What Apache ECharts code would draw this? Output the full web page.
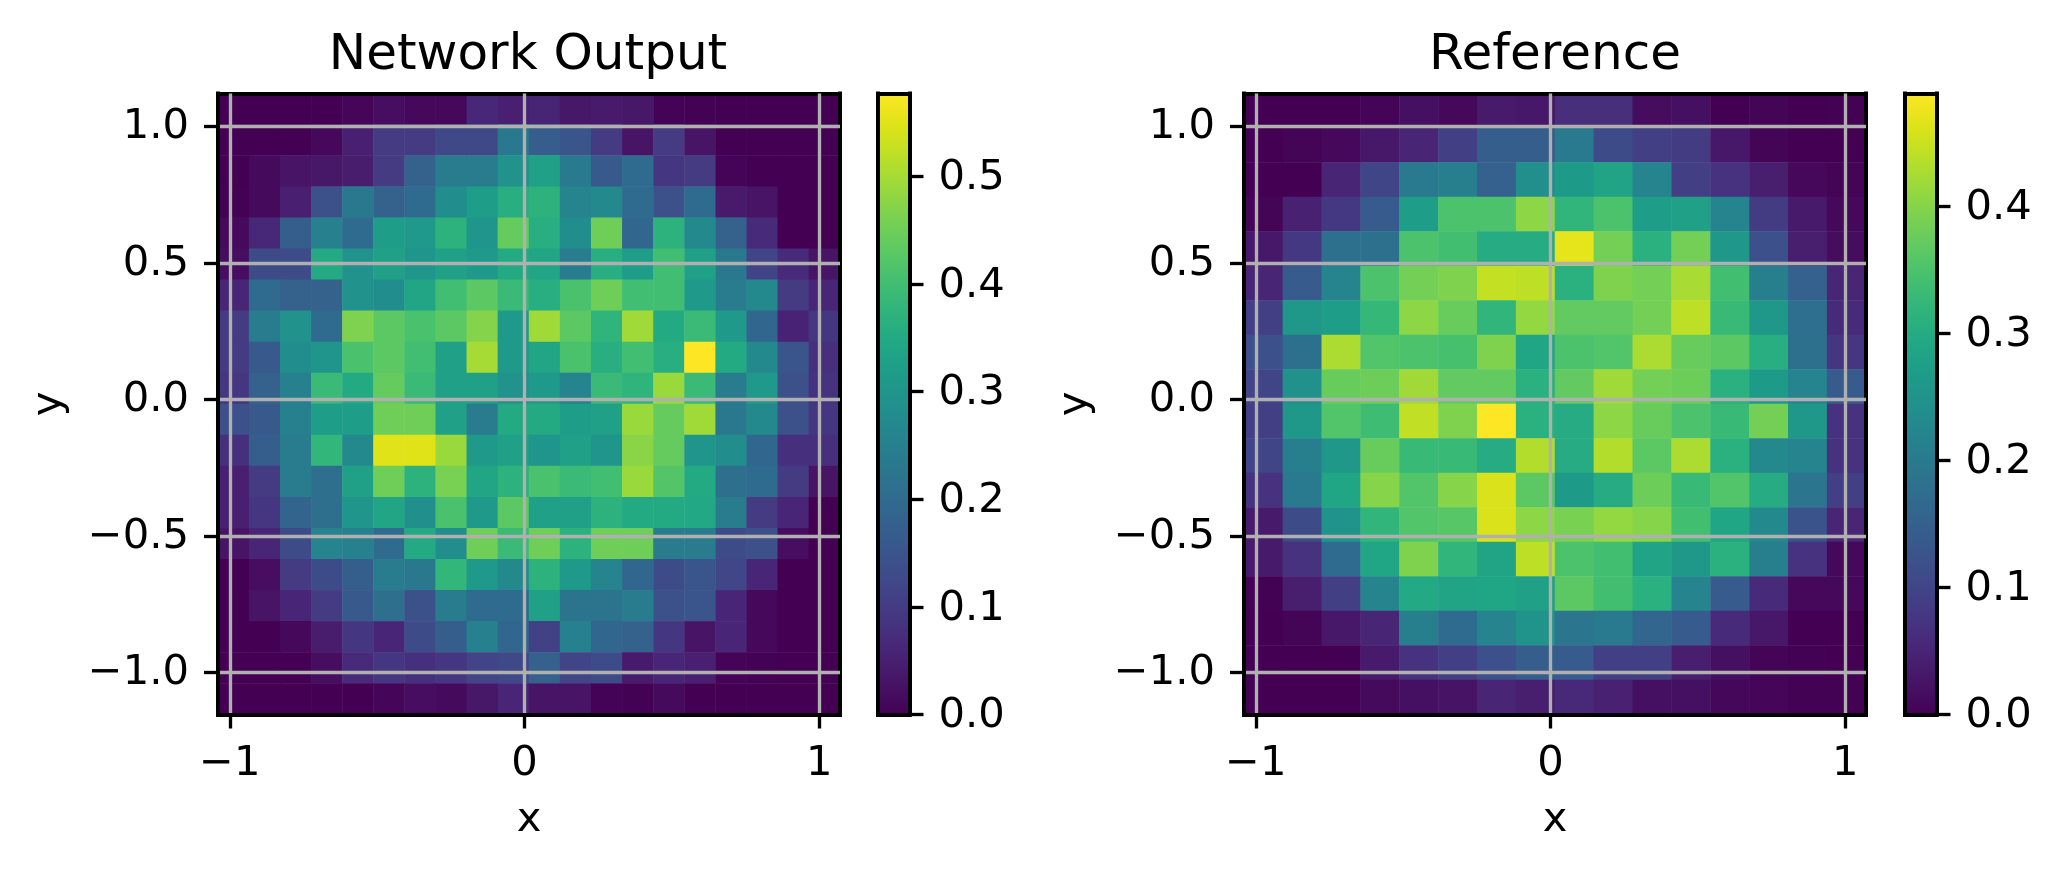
<!DOCTYPE html>
<html>
<head>
<meta charset="utf-8">
<style>html,body{margin:0;padding:0;background:#fff}#c{width:2061px;height:870px}</style>
<script src="https://cdn.jsdelivr.net/npm/echarts@6/dist/echarts.min.js"></script>
</head>
<body>
<div id="c"></div>
<script>
// Rows run from the top of the picture (high y) to the bottom.
const networkValues = [
[0,0,0,0,.006,.02,.012,.012,.065,.05,.058,.035,.04,.035,.004,.002,0,0,0,0],
[0,0,0,.012,.05,.1,.1,.125,.125,.23,.17,.15,.1,.03,.1,.03,0,0,0,0],
[0,.015,.03,.035,.045,.1,.18,.24,.24,.29,.33,.235,.16,.2,.09,.1,.005,0,0,0],
[.002,.015,.05,.14,.23,.18,.2,.28,.32,.36,.37,.26,.27,.2,.14,.2,.04,.03,0,0],
[.015,.065,.17,.25,.2,.32,.31,.37,.3,.44,.36,.28,.45,.19,.37,.27,.18,.07,0,0],
[.02,.13,.13,.35,.29,.33,.3,.33,.31,.35,.34,.24,.36,.32,.4,.33,.23,.115,.07,.03],
[.06,.2,.18,.18,.29,.28,.34,.4,.43,.39,.36,.41,.45,.4,.4,.31,.24,.27,.1,.06],
[.1,.24,.29,.2,.465,.43,.41,.43,.47,.31,.495,.43,.375,.495,.35,.39,.31,.19,.055,.09],
[.1,.16,.28,.3,.41,.43,.4,.33,.5,.31,.34,.41,.36,.4,.36,.577,.35,.27,.15,.08],
[.09,.18,.25,.39,.35,.44,.39,.33,.33,.29,.31,.26,.39,.375,.49,.39,.24,.31,.14,.085],
[.14,.16,.25,.32,.32,.45,.45,.33,.24,.35,.35,.32,.33,.49,.44,.495,.23,.27,.14,.09],
[.08,.17,.24,.38,.27,.548,.548,.49,.31,.33,.3,.33,.3,.475,.44,.3,.28,.19,.08,.08],
[.05,.1,.24,.21,.33,.45,.37,.46,.34,.37,.41,.39,.4,.49,.42,.35,.21,.2,.1,.03],
[.05,.09,.185,.21,.3,.34,.285,.41,.31,.43,.33,.33,.37,.35,.35,.345,.24,.1,.06,0],
[.03,.06,.13,.26,.25,.2,.35,.28,.45,.39,.45,.37,.45,.45,.24,.24,.13,.14,.02,0],
[0,.02,.1,.13,.17,.24,.23,.38,.31,.27,.37,.31,.26,.19,.13,.15,.12,.06,0,0],
[0,.03,.06,.1,.16,.21,.14,.24,.2,.2,.33,.22,.22,.24,.14,.15,.06,.012,0,0],
[0,0,.012,.045,.09,.06,.13,.17,.25,.19,.11,.25,.19,.18,.09,.03,.06,.012,0,0],
[0,0,0,.02,.07,.09,.08,.09,.115,.125,.18,.115,.13,.04,.06,.05,.005,.002,0,0],
[0,0,0,0,0,.008,.02,.015,.035,.06,.03,.03,.003,.002,.015,0,0,0,0,0]
];
const referenceValues = [
[0,0,0,.004,.02,.01,.035,.03,.065,.065,.015,.02,0,.005,0,.002],
[0,.005,.01,.03,.05,.09,.145,.145,.2,.11,.09,.085,.03,.005,0,0],
[0,0,.05,.1,.2,.21,.15,.24,.265,.285,.22,.09,.07,.04,.01,.005],
[.005,.045,.08,.14,.27,.35,.35,.405,.32,.35,.27,.28,.22,.085,.035,.01],
[.03,.08,.18,.18,.35,.34,.3,.3,.47,.385,.31,.385,.26,.12,.04,.015],
[.05,.14,.22,.35,.385,.395,.445,.44,.31,.395,.385,.425,.34,.21,.15,.05],
[.09,.26,.27,.325,.405,.375,.32,.41,.37,.37,.385,.44,.33,.26,.175,.06],
[.12,.18,.428,.355,.35,.345,.395,.29,.35,.355,.428,.375,.365,.305,.18,.075],
[.1,.245,.375,.38,.42,.37,.37,.31,.37,.42,.385,.38,.31,.265,.22,.14],
[.09,.26,.355,.335,.442,.395,.489,.31,.3,.405,.375,.35,.33,.385,.26,.07],
[.1,.21,.26,.375,.33,.33,.3,.433,.3,.433,.365,.428,.31,.23,.22,.07],
[.07,.2,.29,.4,.355,.4,.46,.365,.265,.3,.38,.33,.355,.3,.19,.09],
[.035,.11,.25,.32,.355,.36,.46,.405,.39,.41,.4,.34,.29,.23,.125,.05],
[.035,.07,.17,.29,.395,.32,.285,.44,.35,.34,.285,.26,.31,.21,.07,.01],
[.002,.04,.09,.22,.295,.285,.29,.28,.365,.34,.31,.22,.14,.06,.01,.01],
[0,.005,.03,.05,.21,.17,.22,.25,.19,.2,.16,.14,.06,.03,0,0],
[0,0,0,.035,.07,.09,.12,.145,.14,.09,.09,.04,.02,.005,.002,0],
[0,0,0,.012,.02,.025,.05,.04,.055,.045,.02,.02,.008,.006,.002,.002]
];
const titles = ['Network Output', 'Reference'];
const xTicks = [-1, 0, 1];
const yTicks = [-1, -0.5, 0, 0.5, 1];
const xRange = [-1.04, 1.07];
const yRange = [-1.154, 1.12];
const networkMax = 0.577;
const referenceMax = 0.489;
const networkBarTicks = [0, 0.1, 0.2, 0.3, 0.4, 0.5];
const referenceBarTicks = [0, 0.1, 0.2, 0.3, 0.4];
const viridis = ['#440154','#471365','#482475','#463480','#414487','#3b528b','#355f8d','#2f6c8e','#2a788e','#25848e','#21918c','#1e9c89','#22a884','#2fb47c','#44bf70','#5ec962','#7ad151','#9bd93c','#bddf26','#dfe318','#fde725'];

const FONT = 'DejaVu Sans', FS = 41.67, LW = 3.33, FRAME = 4, TICK = 14;
const minus = s => String(s).replace('-', '\u2212');
const lineOnly = {show: true, onZero: false, lineStyle: {color: '#000', width: FRAME, cap: 'square'}};
const indexList = n => Array.from({length: n}, (_, i) => i);
const numStyle = pad => ({fontFamily: FONT, fontSize: FS, color: '#000', padding: [pad, 0, 0, 0]});

const grid = [], xAxis = [], yAxis = [], series = [], visualMap = [], title = [];

function addPanel(idx, rows, vmax, barTicks, L, barL, titleX) {
  const T = 93.5, H = 621, W = 622, BW = 31.5;
  const nRows = rows.length, nCols = rows[0].length;
  // main grid
  const g = grid.length;
  grid.push({left: L, top: T, width: W, height: H, containLabel: false});
  const xCat = xAxis.length;
  xAxis.push({gridIndex: g, type: 'category', position: 'top', data: indexList(nCols), z: 10,
    axisLine: lineOnly, axisTick: {show: false}, axisLabel: {show: false}, splitLine: {show: false}, splitArea: {show: false}});
  xAxis.push({gridIndex: g, type: 'value', position: 'bottom', min: xRange[0], max: xRange[1], z: 11,
    name: 'x', nameLocation: 'middle', nameGap: 85,
    nameTextStyle: {fontFamily: FONT, fontSize: FS, color: '#000'},
    axisLine: lineOnly,
    axisTick: {show: true, length: TICK, customValues: xTicks, lineStyle: {color: '#000', width: LW}},
    axisLabel: {show: true, customValues: xTicks, margin: 29, fontFamily: FONT, fontSize: FS, color: '#000', formatter: minus},
    splitLine: {show: true, lineStyle: {color: '#b0b0b0', width: LW}}});
  const yCat = yAxis.length;
  yAxis.push({gridIndex: g, type: 'category', position: 'right', data: indexList(nRows), z: 10,
    axisLine: lineOnly, axisTick: {show: false}, axisLabel: {show: false}, splitLine: {show: false}, splitArea: {show: false}});
  yAxis.push({gridIndex: g, type: 'value', position: 'left', min: yRange[0], max: yRange[1], z: 11,
    name: 'y', nameLocation: 'middle', nameGap: 148,
    nameTextStyle: {fontFamily: FONT, fontSize: FS, color: '#000'},
    axisLine: lineOnly,
    axisTick: {show: true, length: TICK, customValues: yTicks, lineStyle: {color: '#000', width: LW}},
    axisLabel: {show: true, customValues: yTicks, margin: 29, fontFamily: FONT, fontSize: FS, color: '#000',
      rich: {n: numStyle(2)}, formatter: v => '{n|' + minus(Number(v).toFixed(1)) + '}'},
    splitLine: {show: true, lineStyle: {color: '#b0b0b0', width: LW}}});
  const data = [];
  rows.forEach((row, r) => row.forEach((v, c) => data.push([c, nRows - 1 - r, v])));
  const sIdx = series.length;
  series.push({type: 'heatmap', xAxisIndex: xCat, yAxisIndex: yCat, data, z: 2,
    progressive: 0, animation: false, emphasis: {disabled: true}, itemStyle: {borderWidth: 0}});
  visualMap.push({type: 'continuous', show: false, seriesIndex: sIdx, dimension: 2, min: 0, max: vmax, inRange: {color: viridis}});
  title.push({text: titles[idx], left: titleX, top: 26, textAlign: 'center',
    textStyle: {fontFamily: FONT, fontSize: 50, fontWeight: 'normal', color: '#000'}});

  // colour bar, drawn as one bar on a value axis
  const b = grid.length;
  grid.push({left: barL, top: T, width: BW, height: H});
  const bx = xAxis.length;
  xAxis.push({gridIndex: b, type: 'category', position: 'bottom', data: [''], z: 10,
    axisLine: lineOnly, axisTick: {show: false}, axisLabel: {show: false}, splitLine: {show: false}});
  xAxis.push({gridIndex: b, type: 'category', position: 'top', data: [''], z: 10,
    axisLine: lineOnly, axisTick: {show: false}, axisLabel: {show: false}, splitLine: {show: false}});
  const by = yAxis.length;
  yAxis.push({gridIndex: b, type: 'value', position: 'right', min: 0, max: vmax, z: 10,
    axisLine: lineOnly,
    axisTick: {show: true, length: TICK, customValues: barTicks, lineStyle: {color: '#000', width: LW}},
    axisLabel: {show: true, customValues: barTicks, margin: 29, verticalAlignMinLabel: 'middle',
      fontFamily: FONT, fontSize: FS, color: '#000',
      rich: {n: numStyle(4)}, formatter: v => '{n|' + Number(v).toFixed(1) + '}'},
    splitLine: {show: false}});
  yAxis.push({gridIndex: b, type: 'value', position: 'left', min: 0, max: vmax, z: 10,
    axisLine: lineOnly, axisTick: {show: false}, axisLabel: {show: false}, splitLine: {show: false}});
  series.push({type: 'bar', xAxisIndex: bx, yAxisIndex: by, data: [vmax], barWidth: '100%', z: 2, animation: false, silent: true,
    itemStyle: {color: {type: 'linear', x: 0, y: 1, x2: 0, y2: 0,
      colorStops: viridis.map((c, i) => ({offset: i / (viridis.length - 1), color: c}))}}});
}

addPanel(0, networkValues, networkMax, networkBarTicks, 218, 878, 523);
addPanel(1, referenceValues, referenceMax, referenceBarTicks, 1244, 1905, 1550);

const chart = echarts.init(document.getElementById('c'), null, {renderer: 'canvas'});
chart.setOption({animation: false, backgroundColor: '#fff', tooltip: {show: false}, grid, xAxis, yAxis, series, visualMap, title});
</script>
</body>
</html>
